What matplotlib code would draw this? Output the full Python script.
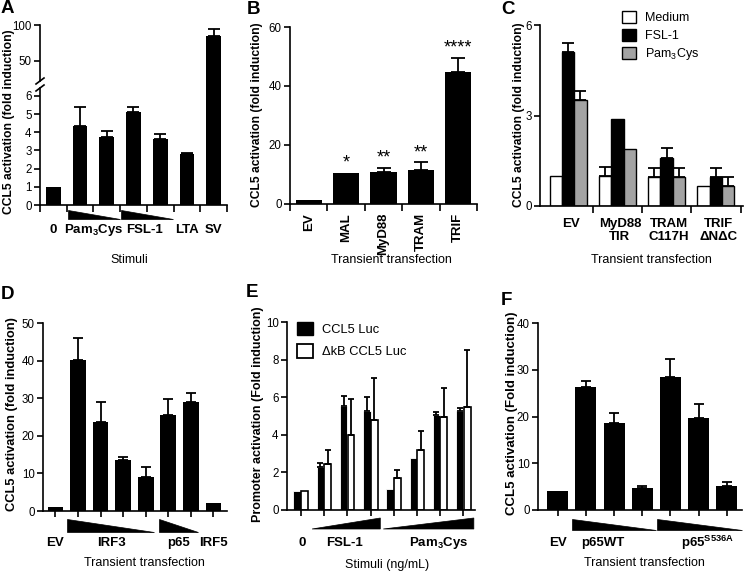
import matplotlib
matplotlib.use('Agg')
import matplotlib.pyplot as plt
import numpy as np
from matplotlib.transforms import blended_transform_factory
from matplotlib.patches import Polygon, Patch
from matplotlib.lines import Line2D

plt.rcParams['font.family'] = ['Liberation Sans', 'DejaVu Sans']
plt.rcParams['mathtext.fontset'] = 'custom'
plt.rcParams['mathtext.rm'] = 'Liberation Sans'
plt.rcParams['mathtext.bf'] = 'Liberation Sans:bold'
plt.rcParams['mathtext.it'] = 'Liberation Sans:italic'

# ---------------- data ----------------
A_vals = [1.0, 4.35, 3.72, 5.1, 3.62, 2.8, 84.0]
A_err = [0, 1.05, 0.38, 0.3, 0.28, 0.07, 10.0]
A_labels = ['0', 'Pam$_\\mathbf{3}$Cys', 'FSL-1', 'LTA', 'SV']

B_cats = ['EV', 'MAL', 'MyD88', 'TRAM', 'TRIF']
B_vals = [1.2, 10.6, 10.9, 11.5, 44.8]
B_err = [0, 0, 1.2, 2.6, 4.8]
B_stars = ['', '*', '**', '**', '****']

C_groups = ['EV', 'MyD88\nTIR', 'TRAM\nC117H', 'TRIF\nΔNΔC']
C_series = ['Medium', 'FSL-1', 'Pam$_3$Cys']
C_medium = [1.0, 1.0, 0.97, 0.66]
C_medium_err = [0, 0.28, 0.3, 0]
C_fsl = [5.09, 2.88, 1.6, 0.97]
C_fsl_err = [0.32, 0, 0.31, 0.3]
C_pam = [3.51, 1.89, 0.97, 0.66]
C_pam_err = [0.31, 0, 0.3, 0.31]

D_vals = [1.15, 40.2, 23.6, 13.6, 9.0, 25.5, 28.9, 2.2]
D_err = [0, 5.8, 5.5, 0.8, 2.8, 4.3, 2.6, 0]
D_labels = ['EV', 'IRF3', 'p65', 'IRF5']

E_series = ['CCL5 Luc', 'ΔkB CCL5 Luc']
E_wt = [1.0, 2.29, 5.51, 5.28, 1.14, 2.75, 5.04, 5.28]
E_wt_err = [0, 0.2, 0.53, 0.71, 0, 0, 0.15, 0.17]
E_dk = [1.0, 2.43, 4.0, 4.78, 1.69, 3.2, 4.95, 5.49]
E_dk_err = [0, 0.75, 1.89, 2.22, 0.44, 1.0, 1.55, 3.01]
E_labels = ['0', 'FSL-1', 'Pam$_\\mathbf{3}$Cys']

F_vals = [4.0, 26.4, 18.7, 4.7, 28.5, 19.7, 5.06]
F_err = [0, 1.1, 2.0, 0.5, 3.9, 3.0, 1.0]
F_labels = ['EV', 'p65WT', 'p65$^{\\mathbf{S536A}}$']

# ---------------- helpers ----------------
W, H = 745, 573
fig = plt.figure(figsize=(W / 100, H / 100), dpi=100)


def add_ax(l, t, r, b):
    ax = fig.add_axes([l / W, 1 - b / H, (r - l) / W, (b - t) / H])
    ax.spines['top'].set_visible(False)
    ax.spines['right'].set_visible(False)
    for s in ['left', 'bottom']:
        ax.spines[s].set_linewidth(1.2)
    ax.tick_params(width=1.2, length=4, labelsize=8.3, direction='out', pad=2)
    return ax


def pxf(ax, px):
    return -px / (ax.get_position().height * H)


def btr(ax):
    return blended_transform_factory(ax.transData, ax.transAxes)


def wedge(ax, x0, x1, t, b, decreasing=True):
    yt, yb = pxf(ax, t), pxf(ax, b)
    if decreasing:
        pts = [(x0, yt), (x0, yb), (x1, yb)]
    else:
        pts = [(x0, yb), (x1, yt), (x1, yb)]
    ax.add_patch(Polygon(pts, closed=True, transform=btr(ax), clip_on=False,
                         facecolor='black', edgecolor='black', lw=0.5))


def under(ax, x, px, s, **kw):
    ax.text(x, pxf(ax, px), s, transform=btr(ax), ha='center', va='center', **kw)


def title_under(ax, xf, px, s):
    ax.text(xf, pxf(ax, px), s, transform=ax.transAxes, ha='center',
            va='center', fontsize=9)


def errbars(ax, x, v, e, capsize=3.5):
    x = np.asarray(x, float)
    v = np.asarray(v, float)
    e = np.asarray(e, float)
    m = e > 0
    if m.any():
        ax.errorbar(x[m], v[m], yerr=[np.zeros(m.sum()), e[m]], fmt='none',
                    ecolor='black', elinewidth=1.3, capsize=capsize,
                    capthick=1.3)


def ylab(x, y, s, size=9.0):
    fig.text(x / W, 1 - y / H, s, rotation=90, ha='center', va='center',
             fontsize=size, fontweight='bold')


def letter(x, y, s):
    fig.text(x / W, 1 - y / H, s, ha='left', va='top', fontsize=13.5,
             fontweight='bold')


# ---------------- Panel A ----------------
xa = np.arange(len(A_vals))
axA_lo = add_ax(40, 88, 227, 205)
axA_hi = add_ax(40, 25, 227, 81)
axA_lo.bar(xa, A_vals, width=0.55, color='black')
hi_bars = axA_hi.bar(xa, A_vals, width=0.55, color='black')
hi_bars[-1].set_clip_on(False)   # tall bar runs continuously across the axis break
for ax in (axA_lo, axA_hi):
    ax.set_xlim(-0.5, len(A_vals) - 0.5)
axA_lo.set_ylim(0, 6.44)
axA_lo.set_yticks(range(0, 7))
axA_lo.set_xticks(np.arange(-0.5, len(A_vals), 1.0))
axA_lo.set_xticklabels([])
axA_lo.tick_params(axis='x', length=5)
errbars(axA_lo, xa[:-1], A_vals[:-1], A_err[:-1], capsize=4)
axA_hi.set_ylim(22, 100)
axA_hi.set_yticks([50, 100])
axA_hi.spines['bottom'].set_visible(False)
axA_hi.set_xticks([])
errbars(axA_hi, xa[-1:], A_vals[-1:], A_err[-1:], capsize=4)
for yy in (81, 88):
    fig.add_artist(Line2D([36 / W, 44 / W], [1 - (yy + 3) / H, 1 - (yy - 3) / H],
                          color='black', lw=1.2))
wedge(axA_lo, 0.55, 2.5, 5, 14)
wedge(axA_lo, 2.52, 4.48, 5, 14)
for x, s in zip([0, 1.5, 3.4, 5, 6], A_labels):
    under(axA_lo, x, 25, s, fontsize=9.5, fontweight='bold')
title_under(axA_lo, 0.48, 55, 'Stimuli')
ylab(9, 122, 'CCL5 activation (fold induction)', 8.7)
letter(1, 0, 'A')

# ---------------- Panel B ----------------
xb = np.arange(len(B_vals))
axB = add_ax(290, 27, 477, 204)
axB.bar(xb, B_vals, width=0.7, color='black')
errbars(axB, xb, B_vals, B_err, capsize=5)
axB.set_xlim(-0.5, len(B_vals) - 0.5)
axB.set_ylim(0, 60)
axB.set_yticks([0, 20, 40, 60])
axB.set_xticks(np.arange(-0.5, len(B_vals), 1.0))
axB.set_xticklabels([])
axB.tick_params(axis='x', length=5)
for x, s in zip(xb, B_cats):
    axB.text(x, pxf(axB, 9), s, transform=btr(axB), rotation=90, ha='center',
             va='top', fontsize=9.5, fontweight='bold')
for x, v, e, s in zip(xb, B_vals, B_err, B_stars):
    if s:
        axB.annotate(s, (x, v + e), xytext=(0, 1), textcoords='offset points',
                     ha='center', va='bottom', fontsize=13)
title_under(axB, 0.54, 56, 'Transient transfection')
ylab(257, 115, 'CCL5 activation (fold induction)', 8.7)
letter(247, 1, 'B')

# ---------------- Panel C ----------------
xc = np.arange(len(C_groups))
bw = 0.25
axC = add_ax(540, 25, 743, 206)
axC.bar(xc - bw, C_medium, width=bw, color='white', edgecolor='black', lw=1.0)
axC.bar(xc, C_fsl, width=bw, color='black', edgecolor='black', lw=1.0)
axC.bar(xc + bw, C_pam, width=bw, color='#a3a3a3', edgecolor='black', lw=1.0)
errbars(axC, xc - bw, C_medium, C_medium_err, capsize=4.5)
errbars(axC, xc, C_fsl, C_fsl_err, capsize=4.5)
errbars(axC, xc + bw, C_pam, C_pam_err, capsize=4.5)
axC.set_xlim(-0.57, 3.55)
axC.set_ylim(0, 6)
axC.set_yticks([0, 3, 6])
axC.set_xticks(xc + 0.5)
axC.set_xticklabels([])
axC.tick_params(axis='x', length=5)
for x, s in zip(xc, C_groups):
    axC.text(x + 0.05, pxf(axC, 12), s, transform=btr(axC), ha='center', va='top',
             fontsize=9.5, fontweight='bold', linespacing=1.15)
title_under(axC, 0.55, 54, 'Transient transfection')
handles = [Patch(facecolor='white', edgecolor='black'),
           Patch(facecolor='black', edgecolor='black'),
           Patch(facecolor='#a3a3a3', edgecolor='black')]
axC.legend(handles, C_series, loc='upper left', bbox_to_anchor=(622 / W, 1 - 11 / H),
           bbox_transform=fig.transFigure, frameon=False, fontsize=9,
           handlelength=1.15, handleheight=1.15, handletextpad=0.7,
           labelspacing=0.33, borderpad=0, borderaxespad=0)
ylab(519, 115, 'CCL5 activation (fold induction)', 8.7)
letter(501, 1, 'C')

# ---------------- Panel D ----------------
xd = np.arange(len(D_vals))
axD = add_ax(43, 323, 227, 511)
axD.bar(xd, D_vals, width=0.7, color='black')
errbars(axD, xd, D_vals, D_err, capsize=3.5)
axD.set_xlim(-0.55, 7.6)
axD.set_ylim(0, 50)
axD.set_yticks(range(0, 51, 10))
axD.set_xticks(xd)
axD.set_xticklabels([])
wedge(axD, 0.53, 4.38, 8, 21)
wedge(axD, 4.6, 6.33, 8, 21)
for x, s in zip([0, 2.5, 5.45, 7], D_labels):
    under(axD, x, 32, s, fontsize=9.5, fontweight='bold')
title_under(axD, 0.55, 52, 'Transient transfection')
ylab(12, 414, 'CCL5 activation (fold induction)', 9.3)
letter(1, 286, 'D')

# ---------------- Panel E ----------------
xe = np.arange(len(E_wt))
ew = 0.32
axE = add_ax(287, 322, 475, 510)
axE.bar(xe - ew / 2, E_wt, width=ew, color='black', edgecolor='white', lw=0.6)
axE.bar(xe + ew / 2, E_dk, width=ew * 0.92, color='white', edgecolor='black', lw=1.2)
errbars(axE, xe - ew / 2, E_wt, E_wt_err, capsize=2.5)
errbars(axE, xe + ew / 2, E_dk, E_dk_err, capsize=2.5)
axE.set_xlim(-0.6, 7.5)
axE.set_ylim(0, 10)
axE.set_yticks(range(0, 11, 2))
axE.set_xticks(xe)
axE.set_xticklabels([])
wedge(axE, 0.48, 3.42, 8, 19, decreasing=False)
wedge(axE, 3.55, 7.45, 8, 19, decreasing=False)
for x, s in zip([0.05, 1.86, 5.93], E_labels):
    under(axE, x, 33, s, fontsize=9.5, fontweight='bold')
title_under(axE, 0.53, 55, 'Stimuli (ng/mL)')
handlesE = [Patch(facecolor='black', edgecolor='black'),
            Patch(facecolor='white', edgecolor='black', lw=1.3)]
axE.legend(handlesE, E_series, loc='upper left', bbox_to_anchor=(297 / W, 1 - 322 / H),
           bbox_transform=fig.transFigure, frameon=False, fontsize=9.3,
           handlelength=1.2, handleheight=1.2, handletextpad=0.7,
           labelspacing=0.65, borderpad=0, borderaxespad=0)
ylab(258, 414, 'Promoter activation (Fold induction)', 9.0)
letter(246, 284, 'E')

# ---------------- Panel F ----------------
xf = np.arange(len(F_vals))
axF = add_ax(538, 323, 742, 510)
axF.bar(xf, F_vals, width=0.74, color='black')
errbars(axF, xf, F_vals, F_err, capsize=3.5)
axF.set_xlim(-0.7, 6.54)
axF.set_ylim(0, 40)
axF.set_yticks(range(0, 41, 10))
axF.set_xticks(xf)
axF.set_xticklabels([])
wedge(axF, 0.5, 3.5, 9, 20)
wedge(axF, 3.52, 6.54, 9, 20)
for x, s in zip([0, 1.6, 5.3], F_labels):
    under(axF, x, 33, s, fontsize=9.5, fontweight='bold')
title_under(axF, 0.52, 53, 'Transient transfection')
ylab(512, 413, 'CCL5 activation (Fold induction)', 9.5)
letter(501, 292, 'F')

fig.savefig('out.png', dpi=100)
